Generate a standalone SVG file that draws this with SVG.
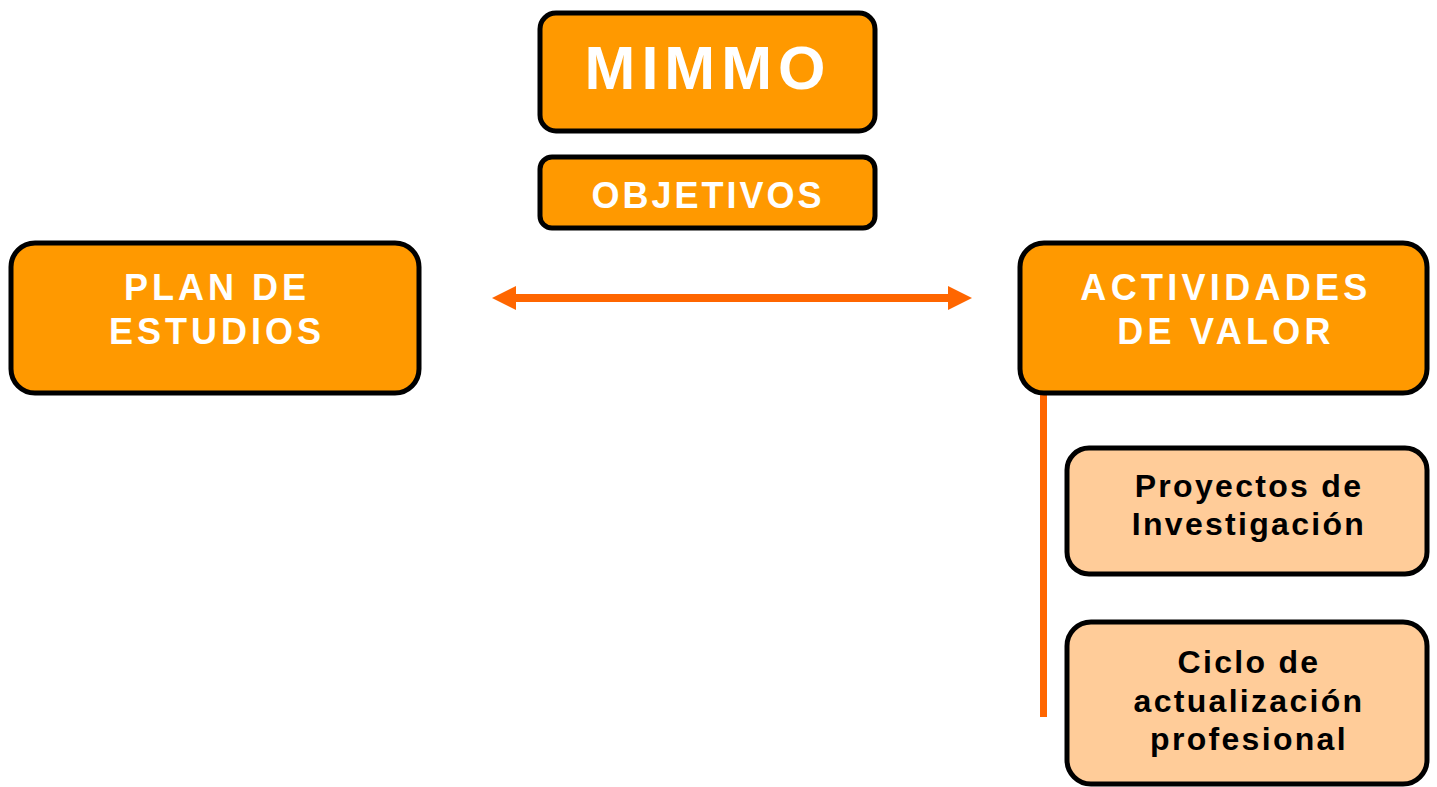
<svg xmlns="http://www.w3.org/2000/svg" width="1437" height="787" viewBox="0 0 1437 787">
<style>
.box{fill:#FF9900;stroke:#000;stroke-width:5}
.sub{fill:#FFCC99;stroke:#000;stroke-width:5}
.wt{fill:#fff;font-family:"Liberation Sans",Arial,sans-serif;font-weight:bold;text-anchor:middle}
.bt{fill:#000;font-family:"Liberation Sans",Arial,sans-serif;font-weight:bold;text-anchor:middle;font-size:32px;letter-spacing:2.3px}
</style>
<defs>
<marker id="ah" viewBox="0 0 24 24" refX="0" refY="12" markerWidth="24" markerHeight="24" markerUnits="userSpaceOnUse" orient="auto-start-reverse">
<path d="M0,0 L24,12 L0,24 Z" fill="#FF6600"/>
</marker>
</defs>
<rect width="1437" height="787" fill="#fff"/>
<g id="connectors">
<line x1="516" y1="298" x2="948" y2="298" stroke="#FF6600" stroke-width="8" marker-start="url(#ah)" marker-end="url(#ah)"/>
<line x1="1043.5" y1="393" x2="1043.5" y2="717" stroke="#FF6600" stroke-width="7"/>
</g>
<g id="mimmo">
<rect class="box" x="540" y="13" width="335" height="118" rx="16"/>
<text class="wt" x="708" y="89" font-size="61" letter-spacing="6">MIMMO</text>
</g>
<g id="objetivos">
<rect class="box" x="540" y="157" width="335" height="71" rx="12"/>
<text class="wt" x="708" y="208" font-size="36" letter-spacing="3">OBJETIVOS</text>
</g>
<g id="plan">
<rect class="box" x="11" y="243" width="408" height="150" rx="24"/>
<text class="wt" font-size="36" letter-spacing="4"><tspan x="217" y="300">PLAN DE</tspan><tspan x="217" y="344">ESTUDIOS</tspan></text>
</g>
<g id="actividades">
<rect class="box" x="1020" y="243" width="407" height="150" rx="24"/>
<text class="wt" font-size="36" letter-spacing="4.3"><tspan x="1226" y="300">ACTIVIDADES</tspan><tspan x="1226" y="344">DE VALOR</tspan></text>
</g>
<g id="proyectos">
<rect class="sub" x="1067" y="448" width="360" height="126" rx="22"/>
<text class="bt"><tspan x="1249" y="497">Proyectos de</tspan><tspan x="1249" y="535">Investigación</tspan></text>
</g>
<g id="ciclo">
<rect class="sub" x="1067" y="622" width="360" height="162" rx="24"/>
<text class="bt"><tspan x="1249" y="673">Ciclo de</tspan><tspan x="1249" y="712">actualización</tspan><tspan x="1249" y="750">profesional</tspan></text>
</g>
</svg>
